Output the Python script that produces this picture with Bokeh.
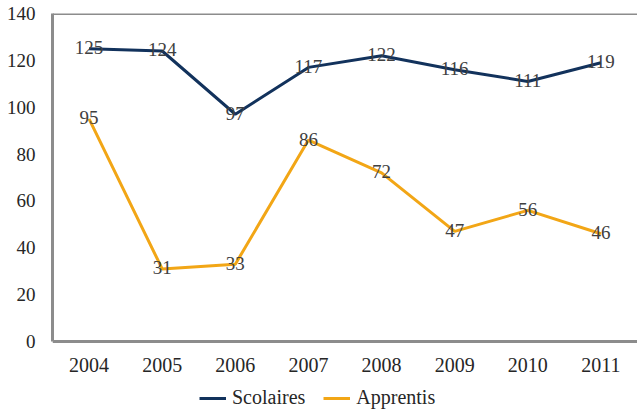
from bokeh.plotting import figure
from bokeh.models import (FactorRange, Range1d, Span, Legend, LegendItem, FixedTicker,
                          ColumnDataSource, CategoricalAxis)
from bokeh.core.properties import value
from bokeh.embed import file_html
from bokeh.resources import INLINE

years = ["2004", "2005", "2006", "2007", "2008", "2009", "2010", "2011"]
scolaires = [125, 124, 97, 117, 122, 116, 111, 119]
apprentis = [95, 31, 33, 86, 72, 47, 56, 46]
y_ticks = [0, 20, 40, 60, 80, 100, 120, 140]

FONT = value("Liberation Serif")
NAVY = "#12325C"
ORANGE = "#F2A616"
GRAY = "#8C8C8C"

# frame spans the full height below the top line; the x axis sits at y=0
p = figure(width=637, height=409, x_range=FactorRange(*years, range_padding=0),
           y_range=Range1d(-29.0, 140), output_backend="svg", toolbar_location=None,
           min_border_left=52, min_border_right=0, min_border_top=13, min_border_bottom=0,
           x_axis_location=None)
p.outline_line_color = None
p.grid.grid_line_color = None
p.background_fill_color = "white"

xax = CategoricalAxis(fixed_location=0)
p.add_layout(xax, "below")

for ax in (xax, p.yaxis[0]):
    ax.axis_line_color = GRAY
    ax.axis_line_width = 3
    ax.major_tick_line_color = None
    ax.minor_tick_line_color = None
    ax.major_label_text_font = "Liberation Serif"
    ax.major_label_text_color = "#262626"
xax.major_label_text_font_size = "20px"
p.yaxis[0].major_label_text_font_size = "19px"
p.yaxis[0].ticker = FixedTicker(ticks=y_ticks)
p.yaxis[0].bounds = (0, 140)
p.yaxis[0].major_label_standoff = 11
xax.major_label_standoff = 10

p.add_layout(Span(location=140, dimension="width", line_color=GRAY, line_width=3))

src = ColumnDataSource(dict(x=years, s=scolaires, a=apprentis,
                            st=[str(v) for v in scolaires], at=[str(v) for v in apprentis]))
r1 = p.line("x", "s", source=src, line_color=NAVY, line_width=3)
r2 = p.line("x", "a", source=src, line_color=ORANGE, line_width=3)

for col, tcol in (("s", "st"), ("a", "at")):
    p.text(x="x", y=col, text=tcol, source=src, text_font=FONT, text_font_size="19px",
           text_color="#404040", text_align="center", text_baseline="middle", y_offset=-1)

legend = Legend(items=[LegendItem(label="Scolaires", renderers=[r1]),
                       LegendItem(label="Apprentis", renderers=[r2])],
                orientation="horizontal", location=(147, 0),
                label_text_font="Liberation Serif", label_text_font_size="20px",
                label_text_color="#262626", border_line_color=None,
                background_fill_alpha=0, padding=0, margin=0, spacing=18,
                glyph_width=27, glyph_height=20, label_height=20, label_standoff=6)
p.add_layout(legend, "center")

open("out.html", "w").write(file_html(p, INLINE))
